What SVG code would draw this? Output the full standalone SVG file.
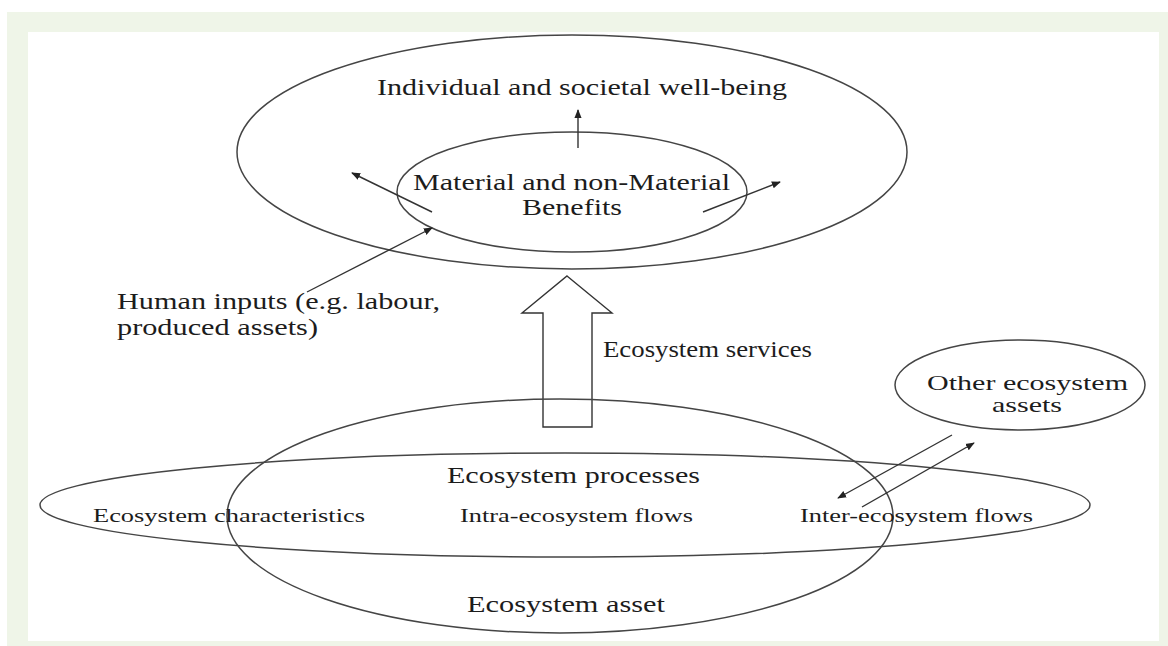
<svg xmlns="http://www.w3.org/2000/svg" width="1168" height="646" viewBox="0 0 1168 646">
<defs>
<style>
.ell{fill:none;stroke:#454545;stroke-width:1.5}
.ln{fill:none;stroke:#333;stroke-width:1.4}
.t{font-family:"Liberation Serif","Times New Roman",Times,serif;fill:#1c1c1c}
.big{font-size:23px}
.mid{font-size:21px}
.sm{font-size:18px}
</style>
<marker id="ah" viewBox="0 0 10 10" refX="9" refY="5" markerWidth="9" markerHeight="9" markerUnits="userSpaceOnUse" orient="auto">
<path d="M0,1 L10,5 L0,9 Z" fill="#222"/>
</marker>
</defs>
<rect x="0" y="0" width="1168" height="646" fill="#ffffff"/>
<rect x="7" y="12" width="1161" height="634" fill="#eff5e8"/>
<rect x="28" y="32" width="1131" height="609" fill="#ffffff"/>

<g id="wellbeing">
<ellipse class="ell" cx="572" cy="152" rx="335" ry="117"/>
<text class="t big" x="377" y="95" textLength="410" lengthAdjust="spacingAndGlyphs">Individual and societal well-being</text>
</g>
<g id="benefits">
<ellipse class="ell" cx="572" cy="192" rx="175" ry="60"/>
<text class="t big" x="413" y="190" textLength="317" lengthAdjust="spacingAndGlyphs">Material and non-Material</text>
<text class="t big" x="522" y="215" textLength="100" lengthAdjust="spacingAndGlyphs">Benefits</text>
</g>
<g id="human-inputs">
<text class="t big" x="117" y="309" textLength="323" lengthAdjust="spacingAndGlyphs">Human inputs (e.g. labour,</text>
<text class="t big" x="117" y="335" textLength="201" lengthAdjust="spacingAndGlyphs">produced assets)</text>
</g>
<g id="services">
<polygon class="ln" points="567,276 612,313 592,313 592,427 543,427 543,313 522,313"/>
<text class="t big" x="603" y="357" textLength="209" lengthAdjust="spacingAndGlyphs">Ecosystem services</text>
</g>
<g id="other-assets">
<ellipse class="ell" cx="1020" cy="385" rx="125" ry="45"/>
<text class="t mid" x="927" y="390" textLength="201" lengthAdjust="spacingAndGlyphs">Other ecosystem</text>
<text class="t mid" x="992" y="412" textLength="70" lengthAdjust="spacingAndGlyphs">assets</text>
</g>
<g id="asset">
<ellipse class="ell" cx="560" cy="516" rx="333" ry="117"/>
<text class="t big" x="467" y="612" textLength="198" lengthAdjust="spacingAndGlyphs">Ecosystem asset</text>
</g>
<g id="processes">
<ellipse class="ell" cx="565" cy="505" rx="525" ry="52"/>
<text class="t big" x="447" y="483" textLength="253" lengthAdjust="spacingAndGlyphs">Ecosystem processes</text>
<text class="t sm" x="93" y="522" textLength="272" lengthAdjust="spacingAndGlyphs">Ecosystem characteristics</text>
<text class="t sm" x="460" y="522" textLength="233" lengthAdjust="spacingAndGlyphs">Intra-ecosystem flows</text>
<text class="t sm" x="800" y="522" textLength="233" lengthAdjust="spacingAndGlyphs">Inter-ecosystem flows</text>
</g>
<g id="connectors">
<line class="ln" x1="578" y1="148" x2="578" y2="110" marker-end="url(#ah)"/>
<line class="ln" x1="432" y1="212" x2="352" y2="173" marker-end="url(#ah)"/>
<line class="ln" x1="703" y1="212" x2="780" y2="182" marker-end="url(#ah)"/>
<line class="ln" x1="307" y1="292" x2="432" y2="228" marker-end="url(#ah)"/>
<line class="ln" x1="952" y1="435" x2="838" y2="498" marker-end="url(#ah)"/>
<line class="ln" x1="862" y1="507" x2="974" y2="443" marker-end="url(#ah)"/>
</g>
</svg>
